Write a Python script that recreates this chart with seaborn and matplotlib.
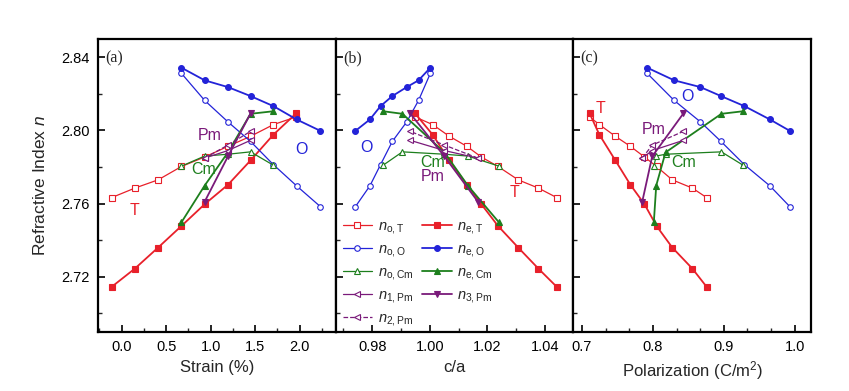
import numpy as np
import pandas as pd
import seaborn as sns
import matplotlib.pyplot as plt
from matplotlib.ticker import MultipleLocator

# Values
# Tetragonal (T)
strain_T = [-0.112, 0.149, 0.410, 0.672, 0.933, 1.194, 1.448, 1.705, 1.960]
ca_T = [1.0441, 1.0377, 1.0307, 1.0237, 1.0179, 1.0129, 1.0068, 1.0010, 0.9949]
pol_T = [0.8758, 0.8556, 0.8273, 0.8051, 0.7881, 0.7683, 0.7471, 0.7245, 0.7108]
no_T = [2.7633, 2.7685, 2.7730, 2.7803, 2.7855, 2.7913, 2.7968, 2.8032, 2.8074]
ne_T = [2.7145, 2.7245, 2.7360, 2.7478, 2.7597, 2.7703, 2.7836, 2.7977, 2.8093]

# Orthorhombic (O)
strain_O = [0.672, 0.933, 1.194, 1.448, 1.705, 1.966, 2.232]
ca_O = [1.0002, 0.9961, 0.9920, 0.9870, 0.9829, 0.9792, 0.9742]
pol_O = [0.792, 0.830, 0.867, 0.896, 0.929, 0.965, 0.993]
no_O = [2.8312, 2.8164, 2.8047, 2.7940, 2.7813, 2.7697, 2.7584]
ne_O = [2.8343, 2.8274, 2.8237, 2.8188, 2.8133, 2.8060, 2.7998]

# Monoclinic Cm
strain_Cm = [0.672, 0.933, 1.194, 1.448, 1.705]
ca_Cm = [1.0240, 1.0132, 1.0051, 0.9905, 0.9838]
pol_Cm = [0.8013, 0.8047, 0.8178, 0.8966, 0.9272]
no_Cm = [2.7805, 2.7860, 2.7870, 2.7883, 2.7810]
ne_Cm = [2.7498, 2.7699, 2.7880, 2.8091, 2.8105]

# Monoclinic Pm
strain_Pm = [0.933, 1.194, 1.448]
ca_Pm = [1.0167, 1.0051, 0.9932]
pol_Pm = [0.785, 0.799, 0.843]
n1_Pm = [2.7849, 2.7890, 2.7946]
n2_Pm = [2.7849, 2.7920, 2.7995]
n3_Pm = [2.7611, 2.7858, 2.8093]

red = "#e8202a"
blue = "#2323d8"
green = "#1d7f1d"
purple = "#7a1a7a"

# label, x per panel, y, color, marker, filled, linestyle
series = [
    (r"$n_{\mathrm{o,T}}$", (strain_T, ca_T, pol_T), no_T, red, "s", False, "-"),
    (r"$n_{\mathrm{e,T}}$", (strain_T, ca_T, pol_T), ne_T, red, "s", True, "-"),
    (r"$n_{\mathrm{o,O}}$", (strain_O, ca_O, pol_O), no_O, blue, "o", False, "-"),
    (r"$n_{\mathrm{e,O}}$", (strain_O, ca_O, pol_O), ne_O, blue, "o", True, "-"),
    (r"$n_{\mathrm{o,Cm}}$", (strain_Cm, ca_Cm, pol_Cm), no_Cm, green, "^", False, "-"),
    (r"$n_{\mathrm{e,Cm}}$", (strain_Cm, ca_Cm, pol_Cm), ne_Cm, green, "^", True, "-"),
    (r"$n_{\mathrm{1,Pm}}$", (strain_Pm, ca_Pm, pol_Pm), n1_Pm, purple, "<", False, "-"),
    (r"$n_{\mathrm{3,Pm}}$", (strain_Pm, ca_Pm, pol_Pm), n3_Pm, purple, "v", True, "-"),
    (r"$n_{\mathrm{2,Pm}}$", (strain_Pm, ca_Pm, pol_Pm), n2_Pm, purple, "<", False, "--"),
]

sns.set_theme(style="ticks")
plt.rcParams['font.family'] = ['Liberation Sans', 'DejaVu Sans']
plt.rcParams['mathtext.fontset'] = 'custom'
plt.rcParams['mathtext.it'] = 'Liberation Sans:italic'
plt.rcParams['mathtext.rm'] = 'Liberation Sans'

fig, axes = plt.subplots(1, 3, figsize=(8.49, 3.91), dpi=100, sharey=True)
fig.subplots_adjust(left=0.1158, right=0.9553, bottom=0.1517, top=0.9003, wspace=0)

for i, ax in enumerate(axes):
    for label, xs, ys, col, mk, filled, ls in series:
        df = pd.DataFrame({"x": xs[i], "y": ys})
        sns.lineplot(data=df, x="x", y="y", ax=ax, sort=False, estimator=None,
                     color=col, marker=mk, markersize=4.2 if filled else 4,
                     markerfacecolor=col if filled else "white",
                     markeredgecolor=col, markeredgewidth=0.8,
                     linewidth=1.3 if filled else 0.9, linestyle=ls,
                     label=label if i == 1 else None, legend=False)

ax_a, ax_b, ax_c = axes
ax_a.set_xlim(-0.262, 2.407)
ax_b.set_xlim(0.9674, 1.0499)
ax_c.set_xlim(0.688, 1.023)
ax_a.set_ylim(2.69, 2.85)

ax_a.xaxis.set_major_locator(MultipleLocator(0.5))
ax_a.xaxis.set_minor_locator(MultipleLocator(0.25))
ax_b.xaxis.set_major_locator(MultipleLocator(0.02))
ax_b.xaxis.set_minor_locator(MultipleLocator(0.01))
ax_c.xaxis.set_major_locator(MultipleLocator(0.1))
ax_c.xaxis.set_minor_locator(MultipleLocator(0.1 / 3))
ax_a.yaxis.set_major_locator(MultipleLocator(0.04))
ax_a.yaxis.set_minor_locator(MultipleLocator(0.02))

ax_a.xaxis.set_major_formatter(plt.FormatStrFormatter('%.1f'))
ax_b.xaxis.set_major_formatter(plt.FormatStrFormatter('%.2f'))
ax_c.xaxis.set_major_formatter(plt.FormatStrFormatter('%.1f'))
ax_a.yaxis.set_major_formatter(plt.FormatStrFormatter('%.2f'))

for ax in axes:
    for sp in ax.spines.values():
        sp.set_linewidth(1.6)
        sp.set_color("black")
    ax.tick_params(which="major", direction="in", length=5, width=1.2,
                   labelsize=10.5, colors="black", pad=6)
    ax.tick_params(which="minor", direction="in", length=3, width=1.0)
    ax.tick_params(top=False, right=False, which="both")
    ax.set_ylabel("")

ax_a.set_xlabel("Strain (%)", fontsize=12)
ax_b.set_xlabel("c/a", fontsize=12)
ax_c.set_xlabel("Polarization (C/m$^2$)", fontsize=12)
ax_a.set_ylabel("Refractive Index $n$", fontsize=12.5, labelpad=10)

# panel tags and phase labels
for ax, tag in zip(axes, ["(a)", "(b)", "(c)"]):
    ax.text(0.03, 0.96, tag, transform=ax.transAxes, fontsize=11.5,
            family="Liberation Serif", va="top", ha="left")

txt = dict(fontsize=11.5, ha="center", va="center")
ax_a.text(0.14, 2.7560, "T", color=red, **txt)
ax_a.text(2.02, 2.7895, "O", color=blue, **txt)
ax_a.text(0.99, 2.7972, "Pm", color=purple, **txt)
ax_a.text(0.92, 2.7785, "Cm", color=green, **txt)

ax_b.text(0.9781, 2.7906, "O", color=blue, **txt)
ax_b.text(1.0009, 2.7824, "Cm", color=green, **txt)
ax_b.text(1.0009, 2.7747, "Pm", color=purple, **txt)
ax_b.text(1.0295, 2.7659, "T", color=red, **txt)

ax_c.text(0.7259, 2.8120, "T", color=red, **txt)
ax_c.text(0.8490, 2.8186, "O", color=blue, **txt)
ax_c.text(0.8009, 2.8005, "Pm", color=purple, **txt)
ax_c.text(0.8433, 2.7824, "Cm", color=green, **txt)

handles, labels = ax_b.get_legend_handles_labels()
lookup = dict(zip(labels, handles))
order = [r"$n_{\mathrm{o,T}}$", r"$n_{\mathrm{o,O}}$", r"$n_{\mathrm{o,Cm}}$",
         r"$n_{\mathrm{1,Pm}}$", r"$n_{\mathrm{2,Pm}}$",
         r"$n_{\mathrm{e,T}}$", r"$n_{\mathrm{e,O}}$", r"$n_{\mathrm{e,Cm}}$",
         r"$n_{\mathrm{3,Pm}}$"]
ax_b.legend([lookup[k] for k in order], order, ncol=2, loc="upper left",
            bbox_to_anchor=(0.005, 0.405), frameon=False, fontsize=10.5,
            handlelength=2.0, handletextpad=0.4, columnspacing=0.6,
            labelspacing=0.42, borderaxespad=0)

fig.savefig("out.png", dpi=100)
